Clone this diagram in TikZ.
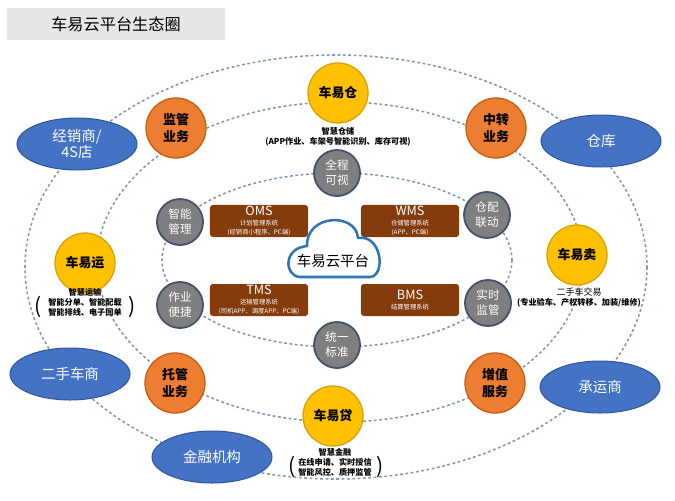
\documentclass[tikz,border=0pt]{standalone}
\usepackage{fontspec}
\setmainfont{Noto Sans CJK SC}
\usetikzlibrary{shapes.geometric}

\definecolor{blu}{HTML}{4472C4}
\definecolor{bluscuro}{HTML}{2F5597}
\definecolor{arancio}{HTML}{ED7D31}
\definecolor{aranciobordo}{HTML}{C55A11}
\definecolor{giallo}{HTML}{FFC000}
\definecolor{giallobordo}{HTML}{D6A000}
\definecolor{grigio}{HTML}{7F7F7F}
\definecolor{grigiobordo}{HTML}{44546A}
\definecolor{marrone}{HTML}{843C0C}
\definecolor{tratto}{HTML}{8497B0}
\definecolor{nuvolablu}{HTML}{2E75B6}
\definecolor{fondotitolo}{HTML}{E7E6E6}

\tikzset{
  ente/.style={ellipse, draw=bluscuro, line width=.7pt, fill=blu, text=white,
    minimum width=3cm, minimum height=1.3cm, inner sep=0pt, align=center,
    font=\fontsize{10.3}{12}\selectfont},
  affare/.style={circle, draw=aranciobordo, line width=.9pt, fill=arancio,
    minimum size=1.5cm, inner sep=0pt, align=center,
    font=\bfseries\fontsize{9.2}{12}\selectfont},
  prodotto/.style={circle, draw=giallobordo, line width=.9pt, fill=giallo,
    minimum size=1.5cm, inner sep=0pt, font=\bfseries\fontsize{9.2}{11}\selectfont},
  valore/.style={circle, draw=grigiobordo, line width=1.3pt, fill=grigio, text=white,
    minimum size=1.15cm, inner sep=0pt, align=center,
    font=\fontsize{8.2}{10.6}\selectfont},
  sistema/.style={rectangle, rounded corners=2pt, fill=marrone, text=white,
    minimum width=2.45cm, minimum height=.8cm, inner sep=1pt, align=center,
    font=\fontsize{4.5}{6}\selectfont},
  descr/.style={align=center, inner sep=0pt, font=\bfseries\fontsize{5.8}{7.1}\selectfont},
  parentesi/.style={inner sep=0pt, font=\fontsize{15}{15}\selectfont},
  orbita/.style={draw=tratto, line width=1.1pt, dash pattern=on 2pt off 1.8pt},
}

\begin{document}
\begin{tikzpicture}[x=0.025cm,y=-0.025cm]
\useasboundingbox (0,0) rectangle (675,500);

\pgfmathsetmacro{\raggioxa}{311}
\pgfmathsetmacro{\raggioya}{212}
\pgfmathsetmacro{\raggioxb}{243}
\pgfmathsetmacro{\raggioyb}{160}
\pgfmathsetmacro{\raggioxc}{175}
\pgfmathsetmacro{\raggioyc}{87}

% titolo
\node[fill=fondotitolo, minimum width=5.45cm, minimum height=.8cm,
  font=\fontsize{11.5}{13}\selectfont] (titolo) at (116,24) {车易云平台生态圈};

% orbite
\coordinate (oa) at (336,267);
\coordinate (ob) at (340,262);
\coordinate (oc) at (337,260);
\draw[orbita] (oa) ellipse [x radius=\raggioxa, y radius=\raggioya];
\draw[orbita] (ob) ellipse [x radius=\raggioxb, y radius=\raggioyb];
\draw[orbita] (oc) ellipse [x radius=\raggioxc, y radius=\raggioyc];

% enti esterni
\node[ente] (jingxiao) at (77,144) {经销商/\\4S店};
\node[ente] (cangku) at (601,141) {仓库};
\node[ente] (ershou) at (70,374) {二手车商};
\node[ente] (jinrong) at (212,457) {金融机构};
\node[ente] (chengyun) at (600,387) {承运商};

% servizi
\node[affare] (jianguan) at (176,128) {监管\\业务};
\node[affare] (zhongzhuan) at (496,128) {中转\\业务};
\node[affare] (tuoguan) at (175,383) {托管\\业务};
\node[affare] (zengzhi) at (495,383) {增值\\服务};

% prodotti
\node[prodotto] (cang) at (338,93) {车易仓};
\node[prodotto] (yun) at (85,263) {车易运};
\node[prodotto] (mai) at (577,255) {车易卖};
\node[prodotto] (dai) at (333,416) {车易贷};

\node[descr] (cangtesto) at (338,137) {智慧仓储\\(APP作业、车架号智能识别、库存可视)};
\node[descr] (yuntesto) at (85,302) {智慧运输\\智能分单、智能配载\\智能排线、电子回单};
\node[parentesi] (yunsx) at (38,307) {(};
\node[parentesi] (yundx) at (132,307) {)};
\node[descr] (maitesto) at (579,298) {{\mdseries\fontsize{6.4}{7.1}\selectfont 二手车交易}\\(专业验车、产权转移、加装/维修)};
\node[descr] (daitesto) at (335,462) {智慧金融\\在线申请、实时授信\\智能风控、质押监管};
\node[parentesi] (daisx) at (292,467) {(};
\node[parentesi] (daidx) at (380,467) {)};

% valori
\node[valore] (quancheng) at (337,173) {全程\\可视};
\node[valore] (zhineng) at (180,222) {智能\\管理};
\node[valore] (cangpei) at (487,215) {仓配\\联动};
\node[valore] (zuoye) at (180,305) {作业\\便捷};
\node[valore] (shishi) at (488,303) {实时\\监管};
\node[valore] (tongyi) at (337,345) {统一\\标准};

% sistemi
\node[sistema] (oms) at (259,221) {{\fontsize{9}{9}\selectfont OMS}\\[1pt]计划管理系统\\(经销商小程序、PC端)};
\node[sistema] (wms) at (410,221) {{\fontsize{9}{9}\selectfont WMS}\\[1pt]仓储管理系统\\(APP、PC端)};
\node[sistema] (tms) at (259,300) {{\fontsize{9}{9}\selectfont TMS}\\[1pt]运输管理系统\\(司机APP、调度APP、PC端)};
\node[sistema] (bms) at (410,300) {{\fontsize{9}{9}\selectfont BMS}\\[1pt]结算管理系统};

% nuvola
\draw[nuvolablu, line width=1.8pt, fill=white, line join=round]
  (300,277) .. controls (284,276) and (283,248) .. (307,246)
  .. controls (306,214) and (356,212) .. (358,238)
  .. controls (382,234) and (386,276) .. (370,277) -- cycle;
\node[font=\fontsize{10.3}{12}\selectfont] (piattaforma) at (333,261) {车易云平台};

\end{tikzpicture}
\end{document}
